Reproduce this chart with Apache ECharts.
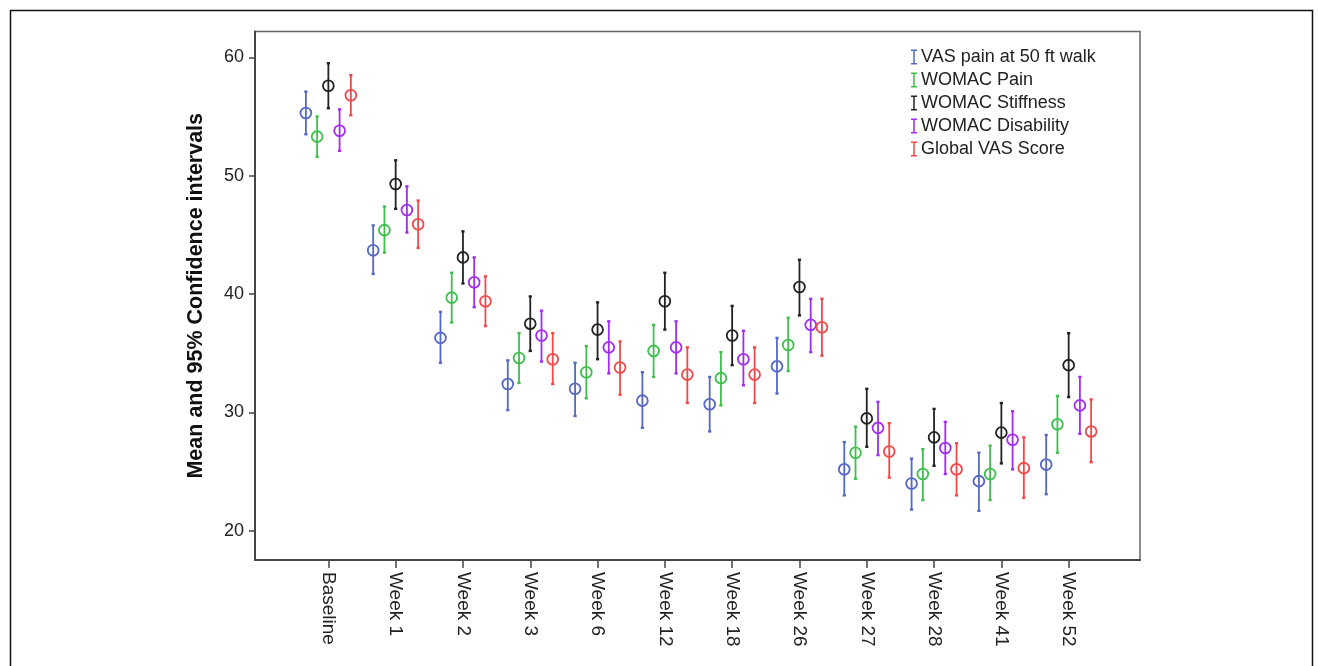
<!DOCTYPE html>
<html>
<head>
<meta charset="utf-8">
<script src="https://cdn.jsdelivr.net/npm/echarts@6/dist/echarts.min.js"></script>
<style>html,body{margin:0;padding:0;background:#fff;}#c{width:1318px;height:666px;}</style>
</head>
<body>
<div id="c"></div>
<script>
const categories = ['Baseline','Week 1','Week 2','Week 3','Week 6','Week 12','Week 18','Week 26','Week 27','Week 28','Week 41','Week 52'];
const seriesNames = ['VAS pain at 50 ft walk','WOMAC Pain','WOMAC Stiffness','WOMAC Disability','Global VAS Score'];
const yTicks = [20,30,40,50,60];

// [mean, lower, upper] per category
const vasPain = [[55.3,53.5,57.1],[43.7,41.7,45.8],[36.3,34.2,38.5],[32.4,30.2,34.4],[32.0,29.7,34.2],[31.0,28.7,33.4],[30.7,28.4,33.0],[33.9,31.6,36.3],[25.2,23.0,27.5],[24.0,21.8,26.1],[24.2,21.7,26.6],[25.6,23.1,28.1]];
const womacPain = [[53.3,51.6,55.0],[45.4,43.5,47.4],[39.7,37.6,41.8],[34.6,32.5,36.7],[33.4,31.2,35.6],[35.2,33.0,37.4],[32.9,30.6,35.1],[35.7,33.5,38.0],[26.6,24.4,28.8],[24.8,22.6,26.9],[24.8,22.6,27.2],[29.0,26.6,31.4]];
const womacStiffness = [[57.6,55.7,59.5],[49.3,47.2,51.3],[43.1,40.9,45.3],[37.5,35.2,39.8],[37.0,34.5,39.3],[39.4,37.0,41.8],[36.5,34.0,39.0],[40.6,38.2,42.9],[29.5,27.1,32.0],[27.9,25.5,30.3],[28.3,25.7,30.8],[34.0,31.3,36.7]];
const womacDisability = [[53.8,52.1,55.6],[47.1,45.2,49.1],[41.0,38.9,43.1],[36.5,34.3,38.6],[35.5,33.3,37.7],[35.5,33.3,37.7],[34.5,32.3,36.9],[37.4,35.1,39.6],[28.7,26.4,30.9],[27.0,24.8,29.2],[27.7,25.2,30.1],[30.6,28.2,33.0]];
const globalVas = [[56.8,55.1,58.5],[45.9,43.9,47.9],[39.4,37.3,41.5],[34.5,32.4,36.7],[33.8,31.5,36.0],[33.2,30.8,35.5],[33.2,30.8,35.5],[37.2,34.8,39.6],[26.7,24.5,29.1],[25.2,23.0,27.4],[25.3,22.8,27.9],[28.4,25.8,31.1]];

const allSeries = [vasPain, womacPain, womacStiffness, womacDisability, globalVas];
const colors = ['#5468c4','#3fbf4e','#222222','#a22cf0','#f24848'];

const chart = echarts.init(document.getElementById('c'));
const font = '"Liberation Sans", Arial, sans-serif';

function makeRender(si) {
  const off = (si - 2) * 0.167;
  return function (params, api) {
    const x = api.value(0) + off;
    const c = api.coord([x, api.value(1)]);
    const lo = api.coord([x, api.value(2)]);
    const hi = api.coord([x, api.value(3)]);
    const col = colors[si];
    return {
      type: 'group',
      children: [
        {type:'line', shape:{x1:c[0], y1:hi[1], x2:c[0], y2:lo[1]}, style:{stroke:col, lineWidth:1.8}},
        {type:'line', shape:{x1:c[0]-1.6, y1:hi[1], x2:c[0]+1.6, y2:hi[1]}, style:{stroke:col, lineWidth:2.4}},
        {type:'line', shape:{x1:c[0]-1.6, y1:lo[1], x2:c[0]+1.6, y2:lo[1]}, style:{stroke:col, lineWidth:2.4}},
        {type:'circle', shape:{cx:c[0], cy:c[1], r:5.4}, style:{fill:'rgba(0,0,0,0)', stroke:col, lineWidth:1.8}}
      ]
    };
  };
}

const series = allSeries.map((arr, si) => ({
  name: seriesNames[si],
  type: 'custom',
  renderItem: makeRender(si),
  itemStyle: {color: colors[si]},
  encode: {x: 0, y: [1,2,3]},
  data: arr.map((d, i) => [i, d[0], d[1], d[2]])
}));

chart.setOption({
  animation: false,
  color: colors,
  graphic: [{
    type: 'rect', left: 8, top: 8, shape: {width: 1302, height: 700},
    style: {fill: 'none', stroke: '#111', lineWidth: 1.5}, silent: true
  }],
  grid: {left: 255, right: 178, top: 31.5, bottom: 106, show: true, borderColor: '#666', borderWidth: 1.5},
  legend: {
    orient: 'vertical', left: 906, top: 43, itemGap: 5, itemWidth: 6, itemHeight: 15,
    icon: 'path://M0,0H6V1.5H3.75V13.5H6V15H0V13.5H2.25V1.5H0Z',
    textStyle: {fontFamily: font, fontSize: 18, color: '#222', padding: [0,0,0,-1]},
    data: seriesNames
  },
  xAxis: {
    type: 'value', min: -1.09, max: 12.06,
    splitLine: {show: false},
    axisLine: {show: true, onZero: false, lineStyle: {color: '#444', width: 2}},
    axisTick: {show: true, customValues: categories.map((_, i) => i), length: 8, lineStyle: {color: '#444', width: 1.5}},
    axisLabel: {
      customValues: categories.map((_, i) => i),
      formatter: v => categories[Math.round(v)],
      rotate: -90, margin: 12, fontFamily: font, fontSize: 19, color: '#222'
    }
  },
  yAxis: {
    type: 'value', min: 17.54, max: 62.18,
    name: 'Mean and 95% Confidence intervals', nameLocation: 'middle', nameGap: 48,
    nameTextStyle: {fontFamily: font, fontSize: 21.5, fontWeight: 'bold', color: '#111'},
    splitLine: {show: false},
    axisLine: {show: true, onZero: false, lineStyle: {color: '#444', width: 2}},
    axisTick: {show: true, customValues: yTicks, length: 6, lineStyle: {color: '#444', width: 1.5}},
    axisLabel: {customValues: yTicks, margin: 11, fontFamily: font, fontSize: 18, color: '#222'}
  },
  series: series
});
</script>
</body>
</html>
